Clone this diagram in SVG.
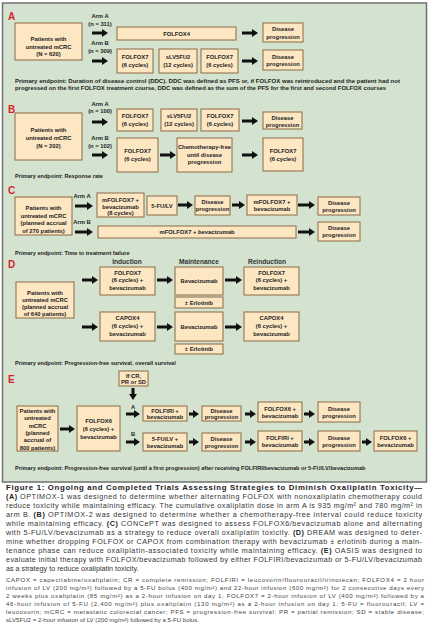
<svg xmlns="http://www.w3.org/2000/svg" width="430" height="643" viewBox="0 0 430 643">
<defs>
<marker id="ah" markerWidth="6" markerHeight="8" refX="0" refY="4" orient="auto" markerUnits="userSpaceOnUse"><path d="M0,0 L6,4 L0,8 z" fill="#111"/></marker>
<style>
.b{fill:#fde6c2;stroke:#8a6b45;stroke-width:1}
.t{font-family:"Liberation Sans",Arial,sans-serif;font-size:5.8px;font-weight:bold;fill:#222;text-anchor:middle}
.l{font-family:"Liberation Sans",Arial,sans-serif;font-size:5.6px;font-weight:bold;fill:#222}
.h{font-family:"Liberation Sans",Arial,sans-serif;font-size:6.6px;font-weight:bold;fill:#333;text-anchor:middle}
.s{font-family:"Liberation Sans",Arial,sans-serif;font-size:10px;font-weight:bold;fill:#d71f2a}
.a line{stroke:#111;stroke-width:3;marker-end:url(#ah)}
.c{font-family:"Liberation Sans",Arial,sans-serif;font-size:7.2px;fill:#333}
.f{font-family:"Liberation Sans",Arial,sans-serif;font-size:6.1px;fill:#444}
.bd{font-weight:bold;fill:#222}
</style>
</defs>
<rect width="430" height="643" fill="#ffffff"/>
<rect x="2.5" y="3" width="424" height="479" fill="#d4e3cf" stroke="#707070" stroke-width="1.5"/>

<!-- Section A -->
<g id="secA">
<text class="s" x="8" y="20">A</text>
<g id="A_pat"><rect class="b" x="15" y="23" width="67" height="37"/><text class="t" x="48.5" y="41">Patients with</text><text class="t" x="48.5" y="49">untreated mCRC</text><text class="t" x="48.5" y="56">(N = 620)</text></g>
<text class="t" x="100" y="18">Arm A</text><text class="t" x="100" y="26">(n = 311)</text>
<text class="t" x="100" y="45">Arm B</text><text class="t" x="100" y="53">(n = 309)</text>
<g id="A_f4"><rect class="b" x="117" y="27" width="119" height="13"/><text class="t" x="176.5" y="35.5">FOLFOX4</text></g>
<g id="A_dp1"><rect class="b" x="263" y="23" width="40" height="19"/><text class="t" x="283" y="31">Disease</text><text class="t" x="283" y="38.5">progression</text></g>
<g id="A_f7a"><rect class="b" x="117" y="49" width="36" height="24"/><text class="t" x="135" y="59">FOLFOX7</text><text class="t" x="135" y="67">(6 cycles)</text></g>
<g id="A_sl"><rect class="b" x="159" y="49" width="38" height="24"/><text class="t" x="178" y="59">sLV5FU2</text><text class="t" x="178" y="67">(12 cycles)</text></g>
<g id="A_f7b"><rect class="b" x="201" y="49" width="37" height="24"/><text class="t" x="219.5" y="59">FOLFOX7</text><text class="t" x="219.5" y="67">(6 cycles)</text></g>
<g id="A_dp2"><rect class="b" x="263" y="50" width="40" height="20"/><text class="t" x="283" y="58.5">Disease</text><text class="t" x="283" y="66">progression</text></g>
<text class="l" x="15" y="83" textLength="385" lengthAdjust="spacingAndGlyphs">Primary endpoint: Duration of disease control (DDC). DDC was defined as PFS or, if FOLFOX was reintroduced and the patient had not</text>
<text class="l" x="15" y="90" textLength="371" lengthAdjust="spacingAndGlyphs">progressed on the first FOLFOX treatment course, DDC was defined as the sum of the PFS for the first and second FOLFOX courses</text>
</g>

<!-- Section B -->
<g id="secB">
<text class="s" x="8" y="113">B</text>
<g id="B_pat"><rect class="b" x="15" y="113" width="67" height="47"/><text class="t" x="48.5" y="132">Patients with</text><text class="t" x="48.5" y="140">untreated mCRC</text><text class="t" x="48.5" y="148">(N = 202)</text></g>
<text class="t" x="100" y="106">Arm A</text><text class="t" x="100" y="113">(n = 100)</text>
<text class="t" x="100" y="140">Arm B</text><text class="t" x="100" y="148">(n = 102)</text>
<g id="B_f7a"><rect class="b" x="117" y="109" width="36" height="22"/><text class="t" x="135" y="118">FOLFOX7</text><text class="t" x="135" y="126">(6 cycles)</text></g>
<g id="B_sl"><rect class="b" x="161" y="109" width="36" height="22"/><text class="t" x="179" y="118">sLV5FU2</text><text class="t" x="179" y="126">(12 cycles)</text></g>
<g id="B_f7b"><rect class="b" x="201" y="109" width="38" height="22"/><text class="t" x="220" y="118">FOLFOX7</text><text class="t" x="220" y="126">(6 cycles)</text></g>
<g id="B_dp"><rect class="b" x="263" y="112" width="39" height="17"/><text class="t" x="282.5" y="119.5">Disease</text><text class="t" x="282.5" y="126.5">progression</text></g>
<g id="B_f7c"><rect class="b" x="117" y="138" width="41" height="34"/><text class="t" x="137.5" y="153">FOLFOX7</text><text class="t" x="137.5" y="161">(6 cycles)</text></g>
<g id="B_cf"><rect class="b" x="177" y="138" width="55" height="34"/><text class="t" x="204.5" y="149">Chemotherapy-free</text><text class="t" x="204.5" y="156.5">until disease</text><text class="t" x="204.5" y="164">progression</text></g>
<g id="B_f7d"><rect class="b" x="263" y="138" width="40" height="33"/><text class="t" x="283" y="153">FOLFOX7</text><text class="t" x="283" y="161">(6 cycles)</text></g>
<text class="l" x="15" y="178">Primary endpoint: Response rate</text>
</g>

<!-- Section C -->
<g id="secC">
<text class="s" x="8" y="194">C</text>
<g id="C_pat"><rect class="b" x="15" y="197" width="57" height="38"/><text class="t" x="43.5" y="210">Patients with</text><text class="t" x="43.5" y="217.5">untreated mCRC</text><text class="t" x="43.5" y="225">(planned accrual</text><text class="t" x="43.5" y="232.5">of 270 patients)</text></g>
<text class="t" x="82" y="198">Arm A</text>
<text class="t" x="82" y="224">Arm B</text>
<g id="C_mf"><rect class="b" x="97" y="193" width="47" height="24"/><text class="t" x="120.5" y="201.5">mFOLFOX7 +</text><text class="t" x="120.5" y="208.5">bevacizumab</text><text class="t" x="120.5" y="215">(8 cycles)</text></g>
<g id="C_fu"><rect class="b" x="147" y="196" width="30" height="19"/><text class="t" x="162" y="207.5">5-FU/LV</text></g>
<g id="C_dp1"><rect class="b" x="195" y="196" width="35" height="19"/><text class="t" x="212.5" y="203.5">Disease</text><text class="t" x="212.5" y="210.5">progression</text></g>
<g id="C_mf2"><rect class="b" x="247" y="195" width="50" height="20"/><text class="t" x="272" y="203.5">mFOLFOX7 +</text><text class="t" x="272" y="210.5">bevacizumab</text></g>
<g id="C_dp2"><rect class="b" x="318" y="197" width="42" height="18"/><text class="t" x="339" y="204.5">Disease</text><text class="t" x="339" y="211.5">progression</text></g>
<g id="C_long"><rect class="b" x="98" y="226" width="198" height="12"/><text class="t" x="197" y="234">mFOLFOX7 + bevacizumab</text></g>
<g id="C_dp3"><rect class="b" x="318" y="222" width="42" height="19"/><text class="t" x="339" y="229.5">Disease</text><text class="t" x="339" y="237">progression</text></g>
<text class="l" x="15" y="255">Primary endpoint: Time to treatment failure</text>
</g>

<!-- Section D -->
<g id="secD">
<text class="s" x="8" y="268">D</text>
<text class="h" x="127" y="263.5">Induction</text>
<text class="h" x="199" y="263.5">Maintenance</text>
<text class="h" x="267" y="263.5">Reinduction</text>
<g id="D_pat"><rect class="b" x="16" y="282" width="58" height="36"/><text class="t" x="45" y="295">Patients with</text><text class="t" x="45" y="302">untreated mCRC</text><text class="t" x="45" y="309">(planned accrual</text><text class="t" x="45" y="316">of 640 patients)</text></g>
<g id="D_f7"><rect class="b" x="100" y="267" width="55" height="28"/><text class="t" x="127.5" y="274.5">FOLFOX7</text><text class="t" x="127.5" y="282">(6 cycles) +</text><text class="t" x="127.5" y="289.5">bevacizumab</text></g>
<g id="D_bv1"><rect class="b" x="175" y="267" width="48" height="28"/><text class="t" x="199" y="283">Bevacizumab</text></g>
<g id="D_f7r"><rect class="b" x="244" y="267" width="55" height="28"/><text class="t" x="271.5" y="274.5">FOLFOX7</text><text class="t" x="271.5" y="282">(6 cycles) +</text><text class="t" x="271.5" y="289.5">bevacizumab</text></g>
<g id="D_er1"><rect class="b" x="175" y="297" width="48" height="11"/><text class="t" x="199" y="304.5">± Erlotinib</text></g>
<g id="D_cx"><rect class="b" x="100" y="312" width="55" height="29"/><text class="t" x="127.5" y="320">CAPOX4</text><text class="t" x="127.5" y="328">(6 cycles) +</text><text class="t" x="127.5" y="335.5">bevacizumab</text></g>
<g id="D_bv2"><rect class="b" x="175" y="312" width="48" height="29"/><text class="t" x="199" y="328.5">Bevacizumab</text></g>
<g id="D_cxr"><rect class="b" x="244" y="312" width="55" height="29"/><text class="t" x="271.5" y="320">CAPOX4</text><text class="t" x="271.5" y="328">(6 cycles) +</text><text class="t" x="271.5" y="335.5">bevacizumab</text></g>
<g id="D_er2"><rect class="b" x="175" y="344" width="48" height="10"/><text class="t" x="199" y="351">± Erlotinib</text></g>
<text class="l" x="15" y="365">Primary endpoint: Progression-free survival, overall survival</text>
</g>

<!-- Section E -->
<g id="secE">
<text class="s" x="8" y="383">E</text>
<g id="E_if"><rect class="b" x="119" y="371" width="29" height="15"/><text class="t" x="133.5" y="377.5">If CR,</text><text class="t" x="133.5" y="384">PR or SD</text></g>
<text class="t" x="133" y="409">A</text>
<text class="t" x="133" y="436">B</text>
<g id="E_pat"><rect class="b" x="17" y="406" width="41" height="45"/><text class="t" x="37.5" y="413">Patients with</text><text class="t" x="37.5" y="420.3">untreated</text><text class="t" x="37.5" y="427.6">mCRC</text><text class="t" x="37.5" y="434.9">(planned</text><text class="t" x="37.5" y="442.2">accrual of</text><text class="t" x="37.5" y="449.5">800 patients)</text></g>
<g id="E_f6"><rect class="b" x="77" y="406" width="43" height="45"/><text class="t" x="98.5" y="423">FOLFOX6</text><text class="t" x="98.5" y="431">(6 cycles) +</text><text class="t" x="98.5" y="439">bevacizumab</text></g>
<g id="E_a1"><rect class="b" x="143" y="406" width="44" height="15"/><text class="t" x="165" y="412.5">FOLFIRI +</text><text class="t" x="165" y="419">bevacizumab</text></g>
<g id="E_a2"><rect class="b" x="202" y="406" width="39" height="15"/><text class="t" x="221.5" y="412.5">Disease</text><text class="t" x="221.5" y="419">progression</text></g>
<g id="E_a3"><rect class="b" x="258" y="402" width="44" height="20"/><text class="t" x="280" y="410.5">FOLFOX6 +</text><text class="t" x="280" y="417.5">bevacizumab</text></g>
<g id="E_a4"><rect class="b" x="318" y="402" width="42" height="20"/><text class="t" x="339" y="410.5">Disease</text><text class="t" x="339" y="417.5">progression</text></g>
<g id="E_b1"><rect class="b" x="143" y="433" width="44" height="18"/><text class="t" x="165" y="440.5">5-FU/LV +</text><text class="t" x="165" y="447.5">bevacizumab</text></g>
<g id="E_b2"><rect class="b" x="202" y="433" width="39" height="18"/><text class="t" x="221.5" y="440.5">Disease</text><text class="t" x="221.5" y="447.5">progression</text></g>
<g id="E_b3"><rect class="b" x="258" y="431" width="44" height="20"/><text class="t" x="280" y="439.5">FOLFIRI +</text><text class="t" x="280" y="446.5">bevacizumab</text></g>
<g id="E_b4"><rect class="b" x="318" y="431" width="42" height="20"/><text class="t" x="339" y="439.5">Disease</text><text class="t" x="339" y="446.5">progression</text></g>
<g id="E_b5"><rect class="b" x="374" y="431" width="43" height="20"/><text class="t" x="395.5" y="439.5">FOLFOX6 +</text><text class="t" x="395.5" y="446.5">bevacizumab</text></g>
<text class="l" x="15" y="470">Primary endpoint: Progression-free survival (until a first progression) after receiving FOLFIRI/bevacizumab or 5-FU/LV/bevacizumab</text>
</g>

<!-- Connectors -->
<g id="connectors" class="a">
<line x1="92" y1="33" x2="102" y2="33"/>
<line x1="242" y1="33" x2="252" y2="33"/>
<line x1="92" y1="61" x2="102" y2="61"/>
<line x1="242" y1="61" x2="252" y2="61"/>
<line x1="92" y1="122" x2="102" y2="122"/>
<line x1="242" y1="121" x2="252" y2="121"/>
<line x1="92" y1="155" x2="102" y2="155"/>
<line x1="160" y1="155" x2="170" y2="155"/>
<line x1="242" y1="155" x2="252" y2="155"/>
<line x1="75" y1="206" x2="87" y2="206"/>
<line x1="178" y1="205" x2="187" y2="205"/>
<line x1="232" y1="205" x2="239" y2="205"/>
<line x1="298" y1="205" x2="309" y2="205"/>
<line x1="75" y1="232" x2="87" y2="232"/>
<line x1="298" y1="232" x2="309" y2="232"/>
<line x1="82" y1="280" x2="92" y2="280"/>
<line x1="157" y1="280" x2="167" y2="280"/>
<line x1="225" y1="280" x2="236" y2="280"/>
<line x1="82" y1="327" x2="92" y2="327"/>
<line x1="157" y1="327" x2="167" y2="327"/>
<line x1="225" y1="327" x2="236" y2="327"/>
<line x1="133" y1="388" x2="133" y2="394"/>
<line x1="126" y1="414" x2="134" y2="414"/>
<line x1="126" y1="442" x2="134" y2="442"/>
<line x1="60" y1="429" x2="69" y2="429"/>
<line x1="189" y1="414" x2="193" y2="414"/>
<line x1="245" y1="414" x2="250" y2="414"/>
<line x1="304" y1="414" x2="309" y2="414"/>
<line x1="189" y1="442" x2="193" y2="442"/>
<line x1="245" y1="442" x2="250" y2="442"/>
<line x1="304" y1="442" x2="309" y2="442"/>
<line x1="362" y1="442" x2="366" y2="442"/>
</g>

<!-- Caption -->
<g id="caption">
<text class="c" x="6" y="490" textLength="416" lengthAdjust="spacing" style="font-weight:bold;font-size:7.8px;fill:#222">Figure 1: Ongoing and Completed Trials Assessing Strategies to Diminish Oxaliplatin Toxicity—</text>
<text class="c" x="6" y="499" textLength="416" lengthAdjust="spacing"><tspan class="bd">(A)</tspan> OPTIMOX-1 was designed to determine whether alternating FOLFOX with nonoxaliplatin chemotherapy could</text>
<text class="c" x="6" y="508" textLength="416" lengthAdjust="spacing">reduce toxicity while maintaining efficacy. The cumulative oxaliplatin dose in arm A is 935 mg/m² and 780 mg/m² in</text>
<text class="c" x="6" y="517" textLength="416" lengthAdjust="spacing">arm B. <tspan class="bd">(B)</tspan> OPTIMOX-2 was designed to determine whether a chemotherapy-free interval could reduce toxicity</text>
<text class="c" x="6" y="526" textLength="416" lengthAdjust="spacing">while maintaining efficacy. <tspan class="bd">(C)</tspan> CONCePT was designed to assess FOLFOX6/bevacizumab alone and alternating</text>
<text class="c" x="6" y="535" textLength="416" lengthAdjust="spacing">with 5-FU/LV/bevacizumab as a strategy to reduce overall oxaliplatin toxicity. <tspan class="bd">(D)</tspan> DREAM was designed to deter-</text>
<text class="c" x="6" y="544" textLength="416" lengthAdjust="spacing">mine whether dropping FOLFOX or CAPOX from combination therapy with bevacizumab ± erlotinib during a main-</text>
<text class="c" x="6" y="553" textLength="416" lengthAdjust="spacing">tenance phase can reduce oxaliplatin-associated toxicity while maintaining efficacy. <tspan class="bd">(E)</tspan> OASIS was designed to</text>
<text class="c" x="6" y="562" textLength="416" lengthAdjust="spacing">evaluate initial therapy with FOLFOX/bevacizumab followed by either FOLFIRI/bevacizumab or 5-FU/LV/bevacizumab</text>
<text class="c" x="6" y="571">as a strategy to reduce oxaliplatin toxicity.</text>
</g>
<g id="footnote">
<text class="f" x="6" y="582" textLength="418" lengthAdjust="spacing">CAPOX = capecitabine/oxaliplatin; CR = complete remission; FOLFIRI = leucovorin/fluorouracil/irinotecan; FOLFOX4 = 2 hour</text>
<text class="f" x="6" y="590" textLength="418" lengthAdjust="spacing">infusion of LV (200 mg/m²) followed by a 5-FU bolus (400 mg/m²) and 22-hour infusion (600 mg/m²) for 2 consecutive days every</text>
<text class="f" x="6" y="598" textLength="418" lengthAdjust="spacing">2 weeks plus oxaliplatin (85 mg/m²) as a 2-hour infusion on day 1; FOLFOX7 = 2-hour infusion of LV (400 mg/m²) followed by a</text>
<text class="f" x="6" y="606" textLength="418" lengthAdjust="spacing">46-hour infusion of 5-FU (2,400 mg/m²) plus oxaliplatin (130 mg/m²) as a 2-hour infusion on day 1; 5-FU = fluorouracil; LV =</text>
<text class="f" x="6" y="614" textLength="418" lengthAdjust="spacing">leucovorin; mCRC = metastatic colorectal cancer; PFS = progression-free survival; PR = partial remission; SD = stable disease;</text>
<text class="f" x="6" y="622">sLV5FU2 = 2-hour infusion of LV (200 mg/m²) followed by a 5-FU bolus.</text>
</g>
</svg>
